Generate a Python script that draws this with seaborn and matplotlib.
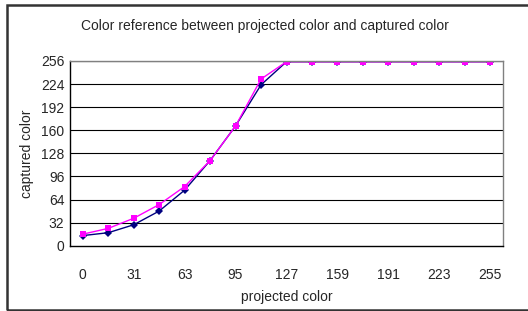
# -*- coding: utf-8 -*-

### Color reference - projected vs captured ###

import pandas as pd
import matplotlib
matplotlib.use("Agg")
import matplotlib.pyplot as plt
from matplotlib.patches import Rectangle
import seaborn as sns

sns.set_style("white")
plt.rcParams['font.family'] = ['Liberation Sans', 'DejaVu Sans']

## Data ##

projected = [0, 16, 31, 47, 63, 79, 95, 111, 127, 143, 159, 175, 191, 207, 223, 239, 255]
captured_a = [14, 18, 29, 48, 77, 118, 166, 223, 255, 255, 255, 255, 255, 255, 255, 255, 255]
captured_b = [16, 24, 38, 57, 82, 118, 166, 231, 255, 255, 255, 255, 255, 255, 255, 255, 255]
y_ticks = [0, 32, 64, 96, 128, 160, 192, 224, 256]

series_names = ["a", "b"]
series_colors = {"a": "#000080", "b": "#FF00FF"}
series_markers = {"a": "D", "b": "s"}

# long form table, category axis -> position index
df = pd.DataFrame({
    "pos": list(range(len(projected))) * 2,
    "captured": captured_a + captured_b,
    "series": [series_names[0]] * len(projected) + [series_names[1]] * len(projected),
})

## Figure ##

fig = plt.figure(figsize=(5.28, 3.11), dpi=100)
ax = fig.add_axes([70 / 528, 1 - 245.7 / 311, 433 / 528, 184.7 / 311])

# outer chart border
fig.patches.append(Rectangle((6.5 / 528, 1 - 309.5 / 311), 1.2, 304.5 / 311,
                             transform=fig.transFigure, fill=False,
                             edgecolor="#333333", linewidth=1.8))

for yt in y_ticks[1:]:
    ax.axhline(yt, color="black", linewidth=0.8, zorder=0)

sns.lineplot(data=df, x="pos", y="captured", hue="series", style="series",
             palette=series_colors, markers=series_markers, dashes=False,
             linewidth=1.0, markersize=4.5, markeredgewidth=0,
             legend=False, ax=ax)
# diamond a bit smaller
ax.lines[-2].set_markersize(4) if len(ax.lines) >= 2 else None

ax.set_xlim(-0.5, len(projected) - 0.5)
ax.set_ylim(0, 256)
ax.set_yticks(y_ticks)
ax.set_yticklabels([str(v) for v in y_ticks], fontsize=10)
ax.set_xticks(range(0, len(projected), 2))
ax.set_xticklabels([str(projected[i]) for i in range(0, len(projected), 2)], fontsize=10)
ax.set_xticks([i - 0.5 for i in range(len(projected) + 1)], minor=True)
ax.tick_params(axis="x", which="major", length=0, pad=16)
ax.tick_params(axis="x", which="minor", direction="in", length=4, width=0.8, color="black")
ax.tick_params(axis="y", length=0, pad=4)

for side in ["left", "bottom"]:
    ax.spines[side].set_color("black")
    ax.spines[side].set_linewidth(1.0)
for side in ["right", "top"]:
    ax.spines[side].set_color("#808080")
    ax.spines[side].set_linewidth(1.0)

ax.set_xlabel("projected color", fontsize=10, labelpad=6)
ax.set_ylabel("captured color", fontsize=10, labelpad=5)
fig.text(265 / 528, 1 - 26 / 311, "Color reference between projected color and captured color",
         ha="center", va="center", fontsize=10)

plt.savefig("out.png", dpi=100)
